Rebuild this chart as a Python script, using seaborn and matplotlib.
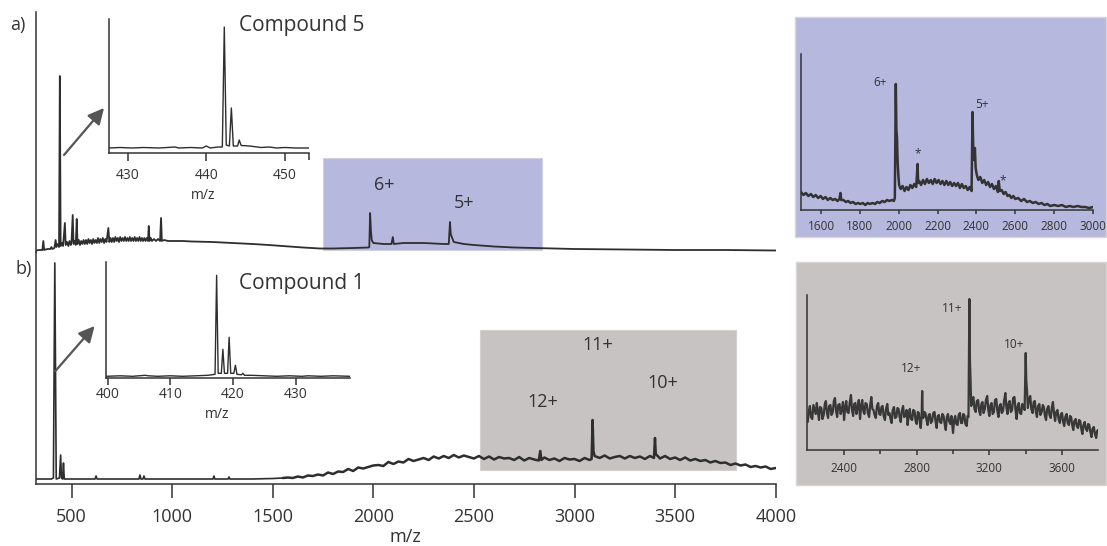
import numpy as np
import matplotlib
matplotlib.use("Agg")
import matplotlib.pyplot as plt
from matplotlib.patches import Rectangle, FancyArrowPatch
import seaborn as sns

sns.set_style("ticks")
plt.rcParams["font.family"] = ["Open Sans", "DejaVu Sans"]

W, H = 1107, 546
INK = "#2e2e2e"
AXC = "#333333"
LAVENDER = "#b6b9dd"
GREY = "#c6c3c2"

# ---------------- spectra (m/z, relative intensity) ----------------
# a) compound 5, full range
spec_a = [
    (321, 1.5), (340, 2), (355, 2), (360, 11), (364, 2), (380, 3), (395, 3), (400, 5),
    (405, 3), (415, 4), (421, 12), (425, 5), (432, 8), (438, 5), (442, 176), (446, 6),
    (452, 9), (458, 6), (467, 29), (471, 7), (478, 10), (484, 6), (490, 11), (496, 7),
    (500, 10), (506, 37), (510, 8), (516, 11), (521, 7), (526, 33), (530, 8), (536, 12),
    (542, 7), (548, 11), (554, 8), (560, 12), (566, 8), (572, 12), (578, 8), (584, 13),
    (590, 9), (596, 12), (602, 8), (608, 13), (614, 9), (620, 12), (626, 9), (632, 14),
    (638, 9), (644, 13), (650, 10), (656, 14), (662, 9), (668, 13), (674, 10), (683, 24),
    (688, 10), (694, 14), (700, 10), (706, 14), (712, 10), (718, 15), (724, 11), (730, 14),
    (736, 10), (742, 15), (748, 11), (754, 14), (760, 11), (766, 15), (772, 11), (778, 14),
    (784, 11), (790, 15), (796, 11), (802, 14), (808, 11), (814, 15), (820, 11), (826, 14),
    (832, 11), (838, 15), (844, 11), (850, 14), (856, 11), (862, 14), (868, 11), (874, 14),
    (880, 11), (884, 26), (888, 11), (894, 14), (900, 11), (910, 13), (920, 11), (930, 13),
    (940, 11), (945, 34), (949, 11), (960, 12), (980, 11), (1000, 11), (1050, 11),
    (1100, 10.5), (1200, 10), (1300, 9), (1400, 8), (1480, 7), (1550, 6), (1650, 4.5),
    (1735, 3.5), (1800, 3.5), (1900, 4), (1975, 4.5), (1980, 5), (1984, 39), (1988, 22),
    (1992, 12), (2000, 9), (2050, 8), (2090, 8), (2097, 15), (2102, 8), (2150, 9),
    (2200, 9), (2250, 9), (2300, 8.5), (2350, 8), (2375, 8), (2381, 30), (2385, 18),
    (2390, 15), (2400, 10), (2450, 8), (2500, 7), (2600, 5.5), (2700, 4.5), (2800, 4),
    (2900, 3.5), (3000, 3), (3250, 2.5), (3500, 2), (3750, 2), (4000, 1.5),
]

# b) compound 1, low m/z part (sharp ions on a flat baseline)
spec_b_low = [
    (321, 5), (400, 5), (410, 6), (417, 221), (424, 5), (440, 6), (446, 29), (450, 6),
    (456, 5), (460, 21), (464, 5), (500, 5), (600, 5), (617, 5), (622, 8), (627, 5),
    (700, 5), (800, 5), (835, 5), (840, 9), (845, 5), (855, 5), (860, 8), (865, 5),
    (1000, 5), (1100, 5), (1203, 5), (1208, 8), (1212, 5), (1278, 5), (1283, 7),
    (1287, 5), (1400, 5), (1500, 5.5), (1550, 6),
]
# b) compound 1, high m/z part (noisy hump with the multiply charged ions)
spec_b_high = [
    (1550, 6), (1575, 6.5), (1600, 6), (1625, 7.5), (1650, 6.5), (1675, 8.5), (1700, 8),
    (1725, 9.5), (1750, 8.5), (1775, 11.5), (1800, 10), (1825, 12.5), (1850, 12),
    (1875, 15), (1900, 13), (1925, 16.5), (1950, 15.5), (1975, 17), (2000, 18.5),
    (2025, 19), (2050, 18), (2075, 22), (2100, 20), (2125, 22.5), (2150, 21.5), (2175, 25),
    (2200, 23), (2225, 24.5), (2250, 26), (2275, 24), (2300, 27.5), (2325, 25.5),
    (2350, 28), (2375, 26), (2400, 29), (2425, 26.5), (2450, 28.5), (2475, 27),
    (2500, 25.5), (2525, 28), (2550, 25), (2575, 27.5), (2600, 24.5), (2625, 27),
    (2650, 25.5), (2675, 26), (2700, 24), (2725, 27), (2750, 23.5), (2775, 26),
    (2800, 24.5), (2822, 23.5), (2830, 33), (2835, 24), (2850, 26.5), (2875, 24),
    (2900, 25.5), (2925, 23), (2950, 26), (2975, 24.5), (3000, 25), (3025, 23),
    (3050, 26), (3075, 24), (3085, 25), (3090, 64), (3094, 33), (3100, 28), (3125, 26),
    (3150, 28.5), (3175, 25.5), (3200, 27), (3225, 28), (3250, 25.5), (3275, 28),
    (3300, 26), (3325, 27.5), (3350, 25), (3375, 28), (3395, 26), (3400, 46), (3404, 30),
    (3425, 25.5), (3450, 28), (3475, 25), (3500, 26.5), (3525, 24), (3550, 26.5),
    (3575, 23.5), (3600, 25), (3625, 23), (3650, 24), (3675, 21.5), (3700, 23),
    (3725, 21), (3750, 21.5), (3775, 19), (3800, 20.5), (3825, 18.5), (3850, 19.5),
    (3875, 17), (3900, 18), (3925, 16.5), (3950, 17.5), (3975, 15), (4000, 16),
]

# isotope pattern insets
iso_5 = [
    (427.6, 5), (429, 5.5), (430.5, 5), (432, 5.5), (434, 5), (436, 6), (436.5, 5),
    (438, 5.5), (439.5, 5), (440, 7), (440.5, 5), (441.5, 6), (442.05, 6), (442.3, 126),
    (442.55, 8), (442.95, 7), (443.2, 45), (443.45, 7), (444.0, 7), (444.2, 13),
    (444.45, 7.5), (445.5, 7), (447, 5.5), (448, 6), (449, 5), (450, 5.5), (451.5, 5),
    (453.1, 5),
]
iso_1 = [
    (399.8, 2), (402, 2.5), (404, 2), (406, 3), (406.5, 2.5), (408, 2), (410, 2.5),
    (412, 2), (414, 2.5), (416, 3), (417.15, 4), (417.4, 103), (417.65, 5), (418.15, 5),
    (418.4, 29), (418.65, 5), (419.15, 5), (419.4, 41), (419.65, 5), (420.15, 5),
    (420.4, 13), (420.65, 4), (421.35, 3.5), (421.6, 5), (421.85, 3), (423, 3), (425, 2.5),
    (427, 2), (429, 2.5), (431, 2), (432, 2.5), (434, 2), (436, 2.5), (438.7, 2),
]

# expanded high-m/z regions
zoom_5 = [
    (1497, 18), (1510, 15), (1522, 17), (1535, 14), (1548, 16), (1560, 13), (1573, 15),
    (1585, 12), (1598, 14), (1610, 11), (1623, 13), (1635, 10), (1648, 12), (1660, 10),
    (1673, 11), (1685, 9), (1695, 11), (1700, 17), (1704, 10), (1715, 10), (1728, 8),
    (1740, 9), (1752, 7), (1765, 8), (1778, 6), (1790, 7), (1802, 6), (1815, 7), (1828, 5),
    (1840, 7), (1852, 6), (1865, 7), (1878, 6), (1890, 8), (1902, 7), (1915, 9), (1928, 8),
    (1940, 10), (1952, 9), (1965, 10), (1975, 9), (1980, 12), (1985, 126), (1988, 80),
    (1991, 73), (1994, 50), (1998, 35), (2002, 25), (2010, 21), (2020, 24), (2030, 19),
    (2040, 23), (2050, 20), (2060, 25), (2070, 22), (2080, 26), (2090, 23), (2097, 46),
    (2100, 27), (2105, 29), (2115, 25), (2125, 30), (2135, 26), (2145, 31), (2155, 27),
    (2165, 30), (2175, 26), (2185, 31), (2195, 27), (2205, 30), (2215, 26), (2225, 29),
    (2235, 25), (2245, 29), (2255, 25), (2265, 28), (2275, 24), (2285, 27), (2295, 24),
    (2305, 27), (2315, 22), (2325, 26), (2335, 22), (2345, 24), (2355, 20), (2365, 23),
    (2375, 19), (2380, 98), (2384, 55), (2388, 50), (2392, 62), (2396, 42), (2402, 35),
    (2410, 30), (2420, 33), (2430, 27), (2440, 30), (2450, 25), (2460, 28), (2470, 23),
    (2480, 26), (2490, 21), (2500, 24), (2510, 18), (2515, 29), (2520, 19), (2530, 20),
    (2540, 16), (2550, 18), (2560, 14), (2570, 15), (2580, 12), (2590, 14), (2600, 11),
    (2615, 12), (2630, 9), (2645, 11), (2660, 8), (2675, 9), (2690, 7), (2705, 8),
    (2720, 6), (2735, 7), (2750, 5), (2765, 6), (2780, 4), (2800, 5), (2820, 4),
    (2840, 5), (2860, 3), (2880, 4), (2900, 3), (2920, 4), (2940, 3), (2960, 3),
    (2980, 2), (3000, 3),
]
zoom_1 = [
    (2200, 28), (2206, 39), (2212, 44), (2218, 33), (2225, 31), (2231, 45), (2238, 40),
    (2244, 36), (2250, 47), (2256, 38), (2262, 30), (2268, 43), (2275, 42), (2281, 31),
    (2288, 35), (2294, 46), (2300, 49), (2306, 37), (2312, 32), (2318, 44), (2325, 45),
    (2331, 35), (2338, 38), (2344, 49), (2350, 52), (2356, 39), (2362, 33), (2368, 45),
    (2375, 46), (2381, 36), (2388, 41), (2394, 48), (2400, 30), (2406, 42), (2412, 49),
    (2418, 38), (2425, 37), (2431, 47), (2438, 55), (2444, 40), (2450, 34), (2456, 46),
    (2462, 47), (2468, 36), (2475, 43), (2481, 50), (2488, 31), (2494, 44), (2500, 50),
    (2506, 39), (2512, 36), (2518, 47), (2525, 46), (2531, 37), (2538, 33), (2544, 45),
    (2550, 53), (2556, 41), (2562, 40), (2568, 35), (2575, 32), (2581, 44), (2588, 47),
    (2594, 36), (2600, 35), (2606, 43), (2612, 44), (2618, 34), (2625, 30), (2631, 41),
    (2638, 46), (2644, 35), (2650, 37), (2656, 31), (2662, 27), (2668, 40), (2675, 43),
    (2681, 32), (2688, 33), (2694, 42), (2700, 41), (2706, 33), (2712, 28), (2718, 39),
    (2725, 44), (2731, 33), (2738, 34), (2744, 40), (2750, 25), (2756, 36), (2762, 41),
    (2768, 31), (2775, 30), (2781, 40), (2788, 39), (2794, 29), (2800, 26), (2806, 38),
    (2812, 37), (2817, 28), (2822, 22), (2827, 33), (2830, 59), (2833, 36), (2836, 32),
    (2842, 38), (2848, 37), (2854, 30), (2860, 25), (2866, 35), (2872, 36), (2878, 27),
    (2885, 29), (2891, 37), (2898, 38), (2904, 28), (2910, 22), (2916, 34), (2922, 35),
    (2928, 28), (2935, 27), (2941, 36), (2948, 34), (2954, 26), (2960, 20), (2966, 33),
    (2972, 36), (2978, 29), (2985, 26), (2991, 34), (3000, 17), (3006, 30), (3012, 34),
    (3018, 26), (3025, 25), (3031, 35), (3038, 37), (3044, 27), (3050, 27), (3056, 36),
    (3062, 35), (3068, 26), (3075, 24), (3080, 34), (3085, 33), (3090, 151), (3093, 90),
    (3096, 72), (3100, 44), (3106, 50), (3112, 53), (3118, 41), (3125, 38), (3131, 49),
    (3138, 50), (3144, 39), (3150, 35), (3156, 46), (3162, 48), (3168, 37), (3175, 41),
    (3181, 50), (3188, 54), (3194, 40), (3200, 34), (3206, 45), (3212, 47), (3218, 36),
    (3225, 38), (3231, 50), (3238, 51), (3244, 39), (3250, 33), (3256, 44), (3262, 46),
    (3268, 37), (3275, 39), (3281, 49), (3288, 57), (3294, 42), (3300, 36), (3306, 47),
    (3312, 49), (3318, 38), (3325, 40), (3331, 52), (3338, 53), (3344, 40), (3350, 31),
    (3356, 44), (3362, 47), (3368, 37), (3375, 36), (3381, 46), (3388, 44), (3394, 40),
    (3400, 97), (3403, 70), (3407, 60), (3412, 42), (3418, 51), (3425, 54), (3431, 41),
    (3438, 37), (3444, 48), (3450, 49), (3456, 38), (3462, 33), (3468, 44), (3475, 46),
    (3481, 35), (3488, 38), (3494, 45), (3500, 43), (3506, 34), (3512, 30), (3518, 41),
    (3525, 44), (3531, 35), (3538, 32), (3544, 43), (3550, 48), (3556, 36), (3562, 29),
    (3568, 38), (3575, 40), (3581, 31), (3588, 27), (3594, 36), (3600, 37), (3606, 28),
    (3612, 24), (3618, 33), (3625, 36), (3631, 27), (3638, 25), (3644, 34), (3650, 33),
    (3656, 25), (3662, 20), (3668, 29), (3675, 31), (3681, 24), (3688, 22), (3694, 30),
    (3700, 29), (3706, 21), (3712, 16), (3718, 25), (3725, 28), (3731, 21), (3738, 19),
    (3744, 26), (3750, 25), (3756, 18), (3762, 13), (3768, 21), (3775, 23), (3781, 16),
    (3788, 12), (3793, 19), (3798, 20),
]

# charge-state labels: (text, m/z, intensity)
labels_a = [("6+", 2053, 67), ("5+", 2450, 49)]
labels_b = [("12+", 2842, 82), ("11+", 3116, 139), ("10+", 3440, 101)]
labels_zoom_5 = [("6+", 1902, 127), ("5+", 2430, 106), ("*", 2097, 56), ("*", 2533, 29)]
labels_zoom_1 = [("12+", 2768, 82), ("11+", 2994, 141), ("10+", 3335, 106)]

main_ticks = [500, 1000, 1500, 2000, 2500, 3000, 3500, 4000]
iso5_ticks = [430, 440, 450]
iso1_ticks = [400, 410, 420, 430]
zoom5_ticks = [1600, 1800, 2000, 2200, 2400, 2600, 2800, 3000]
zoom1_ticks = [2400, 2800, 3200, 3600]
zoom1_minor = [2600, 3000, 3400]


def frac(x0, y0, x1, y1):
    """Pixel box (top-left origin) -> figure fraction rectangle."""
    return [x0 / W, 1 - y1 / H, (x1 - x0) / W, (y1 - y0) / H]


def fpt(x, y):
    return (x / W, 1 - y / H)


def trace(ax, data, lw=1.0, color=INK):
    arr = np.array(data, dtype=float)
    sns.lineplot(x=arr[:, 0], y=arr[:, 1], ax=ax, estimator=None, sort=False,
                 color=color, linewidth=lw, zorder=3)


def style(ax, ticks, fs, length, pad, minor=None):
    for s in ("top", "right"):
        ax.spines[s].set_visible(False)
    for s in ("left", "bottom"):
        ax.spines[s].set_color(AXC)
        ax.spines[s].set_linewidth(1.1)
    ax.set_xticks(ticks)
    ax.set_xticklabels([str(t) for t in ticks])
    if minor is not None:
        ax.set_xticks(minor, minor=True)
    ax.tick_params(axis="x", which="both", direction="out", length=length, width=1.1,
                   color=AXC, labelsize=fs, labelcolor=AXC, pad=pad)
    ax.tick_params(axis="x", which="minor", length=length * 0.8)
    ax.tick_params(axis="y", left=False, labelleft=False)
    ax.set_ylabel("")
    ax.set_xlabel("")
    ax.patch.set_alpha(0)


fig = plt.figure(figsize=(W / 100, H / 100), dpi=100)

# background boxes for the expanded views
fig.add_artist(Rectangle(fpt(795, 237), 311 / W, 220 / H, transform=fig.transFigure,
                         facecolor=LAVENDER, edgecolor="#d6d6dc", lw=1, zorder=-5))
fig.add_artist(Rectangle(fpt(796, 485), 310 / W, 223 / H, transform=fig.transFigure,
                         facecolor=GREY, edgecolor="#d8d6d5", lw=1, zorder=-5))

# ---- main panels ----
ax_a = fig.add_axes(frac(35.5, 12, 775.7, 252))
ax_b = fig.add_axes(frac(35.5, 252, 775.7, 484))
for ax in (ax_a, ax_b):
    ax.set_xlim(321, 4000)

ax_a.set_ylim(0, 240)
ax_a.add_patch(Rectangle((1750, 2), 1088, 92, facecolor=LAVENDER, edgecolor="#cfd0e0",
                         lw=0.8, zorder=1))
trace(ax_a, spec_a, lw=1.3)
style(ax_a, main_ticks, 13, 10, 7)
ax_a.spines["bottom"].set_visible(False)
ax_a.tick_params(axis="x", bottom=False, labelbottom=False)
for t, x, y in labels_a:
    ax_a.text(x, y, t, ha="center", va="center", fontsize=13, color=AXC, zorder=4)

ax_b.set_ylim(0, 232)
ax_b.add_patch(Rectangle((2530, 14), 1272, 140, facecolor=GREY, edgecolor="#d3d0cf",
                         lw=0.8, zorder=1))
trace(ax_b, spec_b_low, lw=1.2)
trace(ax_b, spec_b_high, lw=1.8)
style(ax_b, main_ticks, 13, 10, 7)
ax_b.set_xlabel("m/z", fontsize=13, color=AXC, labelpad=1.5)
for t, x, y in labels_b:
    ax_b.text(x, y, t, ha="center", va="center", fontsize=13, color=AXC, zorder=4)

# ---- isotope insets ----
ax_i5 = fig.add_axes(frac(109, 19, 309, 153))
ax_i5.set_xlim(427.6, 453.1)
ax_i5.set_ylim(0, 134)
trace(ax_i5, iso_5, lw=1.0)
style(ax_i5, iso5_ticks, 10, 6, 5, minor=[453.1])
ax_i5.set_xlabel("m/z", fontsize=10, color=AXC)
ax_i5.xaxis.set_label_coords(0.473, -0.26)

ax_i1 = fig.add_axes(frac(106.4, 262, 350, 378.3))
ax_i1.set_xlim(399.8, 438.7)
ax_i1.set_ylim(0, 116.3)
trace(ax_i1, iso_1, lw=1.0)
style(ax_i1, iso1_ticks, 10, 5, 1.5)
ax_i1.set_xlabel("m/z", fontsize=10, color=AXC)
ax_i1.xaxis.set_label_coords(0.454, -0.25)

fig.text(*fpt(238.6, 26), "Compound 5", fontsize=15, color=AXC, ha="left", va="center")
fig.text(*fpt(238.6, 283), "Compound 1", fontsize=15, color=AXC, ha="left", va="center")
fig.text(*fpt(18, 25), "a)", fontsize=13, color=AXC, ha="center", va="center")
fig.text(*fpt(24, 269), "b)", fontsize=13, color=AXC, ha="center", va="center")

for p0, p1 in (((64, 155), (104, 108)), ((55.4, 371), (94.6, 326))):
    fig.add_artist(FancyArrowPatch(fpt(*p0), fpt(*p1), transform=fig.transFigure,
                                   arrowstyle="-|>", mutation_scale=24,
                                   color="#555555", lw=1.6, shrinkA=0, shrinkB=0))

# ---- expanded views ----
ax_z5 = fig.add_axes(frac(801, 54, 1093, 210))
ax_z5.set_xlim(1497, 3000)
ax_z5.set_ylim(0, 156)
trace(ax_z5, zoom_5, lw=1.8, color="#333333")
style(ax_z5, zoom5_ticks, 8.5, 3, 4)
for t, x, y in labels_zoom_5:
    ax_z5.text(x, y, t, ha="center", va="center", fontsize=8.5, color=AXC)

ax_z1 = fig.add_axes(frac(807, 295, 1098, 450))
ax_z1.set_xlim(2196, 3798)
ax_z1.set_ylim(0, 155)
trace(ax_z1, zoom_1, lw=1.6, color="#383838")
style(ax_z1, zoom1_ticks, 8.5, 3.5, 5, minor=zoom1_minor)
for t, x, y in labels_zoom_1:
    ax_z1.text(x, y, t, ha="center", va="center", fontsize=8.5, color=AXC)

fig.savefig("out.png", dpi=100)
